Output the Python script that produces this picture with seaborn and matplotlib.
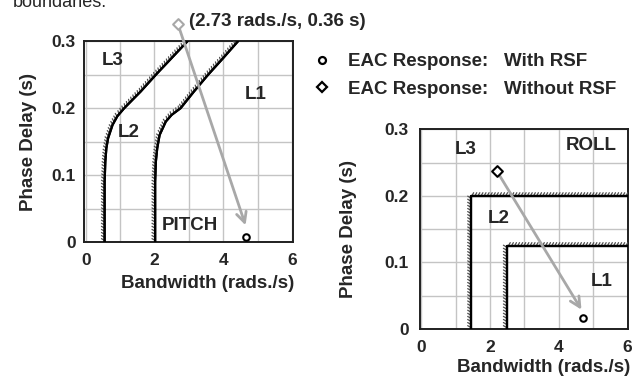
import numpy as np
import pandas as pd
import matplotlib
matplotlib.use("Agg")
import matplotlib.pyplot as plt
import matplotlib.patheffects as pe
from matplotlib.lines import Line2D
import seaborn as sns

# ---------------- data ----------------
# PITCH level boundaries (bandwidth rad/s, phase delay s)
pitch_l3_bw = [0.55, 0.55, 0.57, 0.60, 0.65, 0.78, 0.92, 1.12, 1.60, 2.04, 2.50, 2.96]
pitch_l3_pd = [0.00, 0.09, 0.12, 0.14, 0.155, 0.175, 0.188, 0.20, 0.225, 0.25, 0.275, 0.30]
pitch_l2_bw = [2.02, 2.02, 2.04, 2.08, 2.15, 2.33, 2.50, 2.76, 3.15, 3.56, 4.00, 4.43]
pitch_l2_pd = [0.00, 0.09, 0.12, 0.14, 0.16, 0.18, 0.19, 0.20, 0.225, 0.25, 0.275, 0.30]
# ROLL level boundaries
roll_l3_bw = [1.44, 1.44, 6.0]
roll_l3_pd = [0.0, 0.20, 0.20]
roll_l2_bw = [2.48, 2.48, 6.0]
roll_l2_pd = [0.0, 0.125, 0.125]
# EAC responses
pitch_without = (2.68, 0.326)
pitch_with = (4.65, 0.007)
pitch_arrow_tip = (4.65, 0.025)
roll_without = (2.20, 0.237)
roll_with = (4.71, 0.017)
roll_arrow_tip = (4.66, 0.029)
pitch_note = "(2.73 rads./s, 0.36 s)"
x_ticks = [0, 2, 4, 6]
y_ticks = [0.0, 0.1, 0.2, 0.3]
y_tick_labels = ["0", "0.1", "0.2", "0.3"]
legend_labels = ["EAC Response:   With RSF", "EAC Response:   Without RSF"]

# ---------------- style ----------------
sns.set_theme(style="whitegrid")
plt.rcParams["font.family"] = ["Liberation Sans", "DejaVu Sans"]
plt.rcParams["font.weight"] = "bold"
plt.rcParams["axes.labelweight"] = "bold"

W, H = 640, 376
fig = plt.figure(figsize=(6.4, 3.76), dpi=100)
fig.patch.set_facecolor("white")

def px_axes(l, r, t, b):
    return fig.add_axes([l / W, 1 - b / H, (r - l) / W, (b - t) / H])

ax1 = px_axes(84, 293, 41.3, 242)
ax2 = px_axes(420, 627.5, 129.3, 329)

GRAY = "#a8a8a8"
tick_fx = [pe.withTickedStroke(spacing=2.2, angle=60, length=1.2, linewidth=0.9, foreground="#505050"),
           pe.Normal()]

def style_axes(ax, xlim):
    ax.set_xlim(*xlim)
    ax.set_ylim(0, 0.3)
    ax.set_xticks(np.arange(0, 6.01, 1.0), minor=False)
    ax.set_yticks(np.arange(0, 0.301, 0.05))
    ax.grid(True, color="#c4c4c4", lw=1.0)
    ax.set_axisbelow(True)
    ax.set_facecolor("white")
    for s in ax.spines.values():
        s.set_color("#202020")
        s.set_linewidth(1.4)
    ax.tick_params(length=0, labelsize=12.5)
    # only label every other gridline
    ax.set_xticklabels([str(int(v)) if v in x_ticks else "" for v in np.arange(0, 6.01, 1.0)],
                       fontweight="bold")
    ylab = []
    for v in np.arange(0, 0.301, 0.05):
        m = [lab for t, lab in zip(y_ticks, y_tick_labels) if abs(t - v) < 1e-6]
        ylab.append(m[0] if m else "")
    ax.set_yticklabels(ylab, fontweight="bold")
    ax.set_xlabel("Bandwidth (rads./s)", fontsize=13.5, fontweight="bold")
    ax.set_ylabel("Phase Delay (s)", fontsize=13.5, fontweight="bold")

style_axes(ax1, (-0.05, 6.03))
style_axes(ax2, (-0.04, 6.0))
ax1.tick_params(axis="x", pad=8)
ax1.tick_params(axis="y", pad=6)
ax2.tick_params(axis="x", pad=8)
ax2.tick_params(axis="y", pad=8)
ax1.xaxis.set_label_coords(0.59, -0.165)
ax1.yaxis.set_label_coords(-0.225, 0.5)
ax2.xaxis.set_label_coords(0.594, -0.15)
ax2.yaxis.set_label_coords(-0.302, 0.5)

# ---------------- boundaries ----------------
for bw, pd_ in [(pitch_l3_bw, pitch_l3_pd), (pitch_l2_bw, pitch_l2_pd)]:
    sns.lineplot(x=bw, y=pd_, ax=ax1, sort=False, estimator=None, color="black",
                 lw=1.6, path_effects=tick_fx, zorder=3)
for bw, pd_ in [(roll_l3_bw, roll_l3_pd), (roll_l2_bw, roll_l2_pd)]:
    sns.lineplot(x=bw, y=pd_, ax=ax2, sort=False, estimator=None, color="black",
                 lw=1.6, path_effects=tick_fx, zorder=3)

# ---------------- arrows ----------------
for ax, start, tip in [(ax1, pitch_without, pitch_arrow_tip), (ax2, roll_without, roll_arrow_tip)]:
    ax.annotate("", xy=tip, xytext=start,
                arrowprops=dict(arrowstyle="->,head_length=0.6,head_width=0.3", color=GRAY, lw=2.0,
                                shrinkA=3, shrinkB=0),
                annotation_clip=False, zorder=4)

# ---------------- markers ----------------
sns.scatterplot(x=[pitch_with[0]], y=[pitch_with[1]], ax=ax1, marker="o", s=22,
                facecolor="white", edgecolor="black", linewidth=1.5, zorder=5, clip_on=False)
sns.scatterplot(x=[pitch_without[0]], y=[pitch_without[1]], ax=ax1, marker="D", s=30,
                facecolor="white", edgecolor=GRAY, linewidth=1.5, zorder=5, clip_on=False)
sns.scatterplot(x=[roll_with[0]], y=[roll_with[1]], ax=ax2, marker="o", s=22,
                facecolor="white", edgecolor="black", linewidth=1.5, zorder=5, clip_on=False)
sns.scatterplot(x=[roll_without[0]], y=[roll_without[1]], ax=ax2, marker="D", s=30,
                facecolor="white", edgecolor="black", linewidth=1.5, zorder=5, clip_on=False)

# ---------------- region labels ----------------
fs = 13.5
ax1.text(0.78, 0.272, "L3", fontsize=fs, fontweight="bold", ha="center", va="center")
ax1.text(1.25, 0.164, "L2", fontsize=fs, fontweight="bold", ha="center", va="center")
ax1.text(4.95, 0.22, "L1", fontsize=fs, fontweight="bold", ha="center", va="center")
ax1.text(3.03, 0.025, "PITCH", fontsize=fs, fontweight="bold", ha="center", va="center")
ax1.annotate(pitch_note, xy=pitch_without, xytext=(8, 2), textcoords="offset points",
             fontsize=fs, fontweight="bold", ha="left", va="center", annotation_clip=False)

ax2.text(1.29, 0.27, "L3", fontsize=fs, fontweight="bold", ha="center", va="center")
ax2.text(4.95, 0.276, "ROLL", fontsize=fs, fontweight="bold", ha="center", va="center")
ax2.text(2.24, 0.166, "L2", fontsize=fs, fontweight="bold", ha="center", va="center")
ax2.text(5.24, 0.071, "L1", fontsize=fs, fontweight="bold", ha="center", va="center")

# ---------------- legend ----------------
handles = [Line2D([], [], ls="none", marker="o", ms=5, mfc="white", mec="black", mew=1.6),
           Line2D([], [], ls="none", marker="D", ms=5.5, mfc="white", mec="black", mew=1.6)]
fig.legend(handles, legend_labels, loc="upper left", bbox_to_anchor=(312.5 / W, 1 - 53 / H),
           frameon=False, handlelength=1.0, handletextpad=0.87, labelspacing=0.56,
           borderpad=0, borderaxespad=0, prop={"size": fs, "weight": "bold"})

# clipped text from the surrounding page
fig.text(13 / W, 1 - 7 / H, "boundaries.", fontsize=13, fontweight="normal",
         ha="left", va="baseline")

fig.savefig("out.png", dpi=100, facecolor="white")
